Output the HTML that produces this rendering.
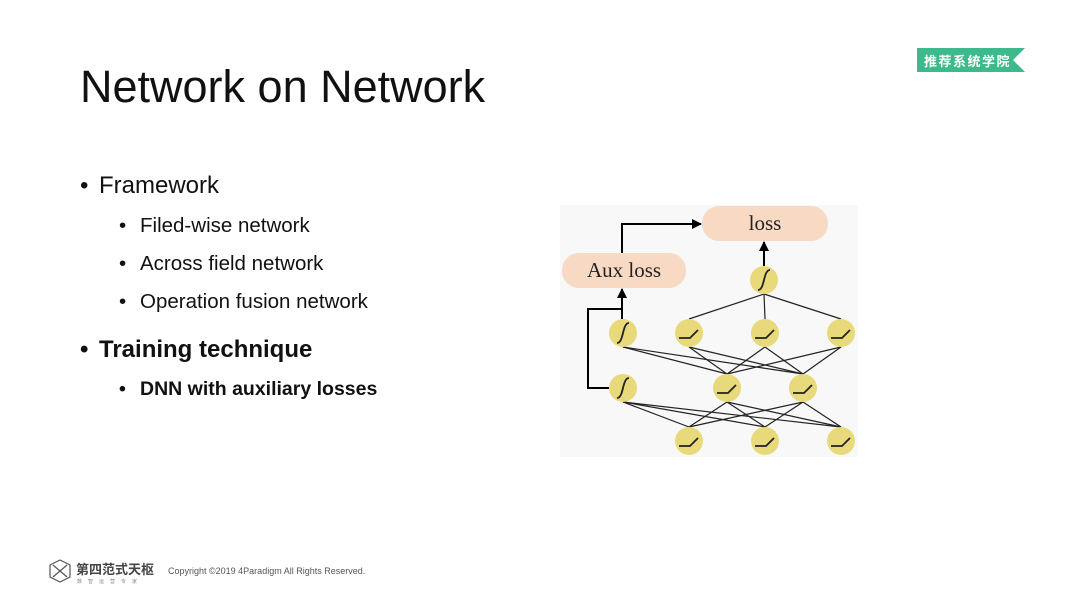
<!DOCTYPE html>
<html><head><meta charset="utf-8"><style>
html,body{margin:0;padding:0;background:#fff}
svg{display:block}
text{font-family:"Liberation Sans","Noto Sans CJK SC",sans-serif}
text.serif{font-family:"Liberation Serif",serif}
</style></head><body>
<svg width="1080" height="603" viewBox="0 0 1080 603" xmlns="http://www.w3.org/2000/svg">
<defs>
<marker id="ar" markerWidth="10" markerHeight="10" refX="9" refY="5" orient="auto" markerUnits="userSpaceOnUse">
<path d="M0,0 L10,5 L0,10 z" fill="#000"/></marker>
<g id="relu"><circle r="14" fill="#e8d97a"/><path d="M-10,5 L1,5 L9,-3" stroke="#222" stroke-width="1.8" fill="none"/></g>
<g id="sig"><circle r="14" fill="#e8d97a"/><path d="M-6,10 C1,10 -1,-10 6,-10" stroke="#222" stroke-width="1.8" fill="none"/></g>
</defs>
<text x="80" y="102" font-size="45" fill="#111">Network on Network</text>
<g fill="#111">
<text x="80" y="193" font-size="24">•</text><text x="99" y="193" font-size="24">Framework</text>
<text x="119" y="232" font-size="20.5">•</text><text x="140" y="232" font-size="20.5">Filed-wise network</text>
<text x="119" y="270" font-size="20.5">•</text><text x="140" y="270" font-size="20.5">Across field network</text>
<text x="119" y="308" font-size="20.5">•</text><text x="140" y="308" font-size="20.5">Operation fusion network</text>
<text x="80" y="357" font-size="24" font-weight="bold">•</text><text x="99" y="357" font-size="24" font-weight="bold">Training technique</text>
<text x="119" y="395" font-size="19.5" font-weight="bold">•</text><text x="140" y="395" font-size="19.5" font-weight="bold">DNN with auxiliary losses</text>
</g>
<!-- badge -->
<path d="M917,48 L1025,48 L1013,60 L1025,72 L917,72 z" fill="#3dba8c"/>
<text x="924" y="66" font-size="13" fill="#fff" font-weight="bold" letter-spacing="1.5">推荐系统学院</text>
<!-- diagram -->
<rect x="560" y="205" width="298" height="252" fill="#f8f8f8"/>
<rect x="702" y="206" width="126" height="35" rx="17" fill="#f8d9c4"/>
<text class="serif" x="765" y="230" font-size="21" text-anchor="middle" fill="#222">loss</text>
<rect x="562" y="253" width="124" height="35" rx="17" fill="#f8d9c4"/>
<text class="serif" x="624" y="277" font-size="21" text-anchor="middle" fill="#222">Aux loss</text>
<g stroke="#222" stroke-width="1.2">
<line x1="764" y1="294" x2="689" y2="319"/><line x1="764" y1="294" x2="765" y2="319"/><line x1="764" y1="294" x2="841" y2="319"/>
<line x1="623" y1="347" x2="727" y2="374"/><line x1="623" y1="347" x2="803" y2="374"/>
<line x1="689" y1="347" x2="727" y2="374"/><line x1="689" y1="347" x2="803" y2="374"/>
<line x1="765" y1="347" x2="727" y2="374"/><line x1="765" y1="347" x2="803" y2="374"/>
<line x1="841" y1="347" x2="727" y2="374"/><line x1="841" y1="347" x2="803" y2="374"/>
<line x1="623" y1="402" x2="689" y2="427"/><line x1="623" y1="402" x2="765" y2="427"/><line x1="623" y1="402" x2="841" y2="427"/>
<line x1="727" y1="402" x2="689" y2="427"/><line x1="727" y1="402" x2="765" y2="427"/><line x1="727" y1="402" x2="841" y2="427"/>
<line x1="803" y1="402" x2="689" y2="427"/><line x1="803" y1="402" x2="765" y2="427"/><line x1="803" y1="402" x2="841" y2="427"/>
</g>
<g stroke="#000" stroke-width="2" fill="none">
<path d="M622,253 L622,224 L701,224" marker-end="url(#ar)"/>
<path d="M764,266 L764,242" marker-end="url(#ar)"/>
<path d="M622,319 L622,289" marker-end="url(#ar)"/>
<path d="M609,388 L588,388 L588,309 L622,309"/>
</g>
<use href="#sig" x="764" y="280"/>
<use href="#sig" x="623" y="333"/>
<use href="#relu" x="689" y="333"/><use href="#relu" x="765" y="333"/><use href="#relu" x="841" y="333"/>
<use href="#sig" x="623" y="388"/>
<use href="#relu" x="727" y="388"/><use href="#relu" x="803" y="388"/>
<use href="#relu" x="689" y="441"/><use href="#relu" x="765" y="441"/><use href="#relu" x="841" y="441"/>
<!-- footer -->
<path d="M60,560 L70,565 L70,577 L60,582 L50,577 L50,565 z" fill="none" stroke="#555" stroke-width="1.2"/>
<path d="M53,565 L67,577 M67,565 L53,577" stroke="#555" stroke-width="1.2"/>
<text x="76" y="574" font-size="13" font-weight="bold" fill="#444">第四范式天枢</text>
<text x="77" y="583" font-size="5" fill="#888" letter-spacing="6">数智运营专家</text>
<text x="168" y="574" font-size="9" fill="#555">Copyright ©2019 4Paradigm All Rights Reserved.</text>
</svg>
</body></html>
